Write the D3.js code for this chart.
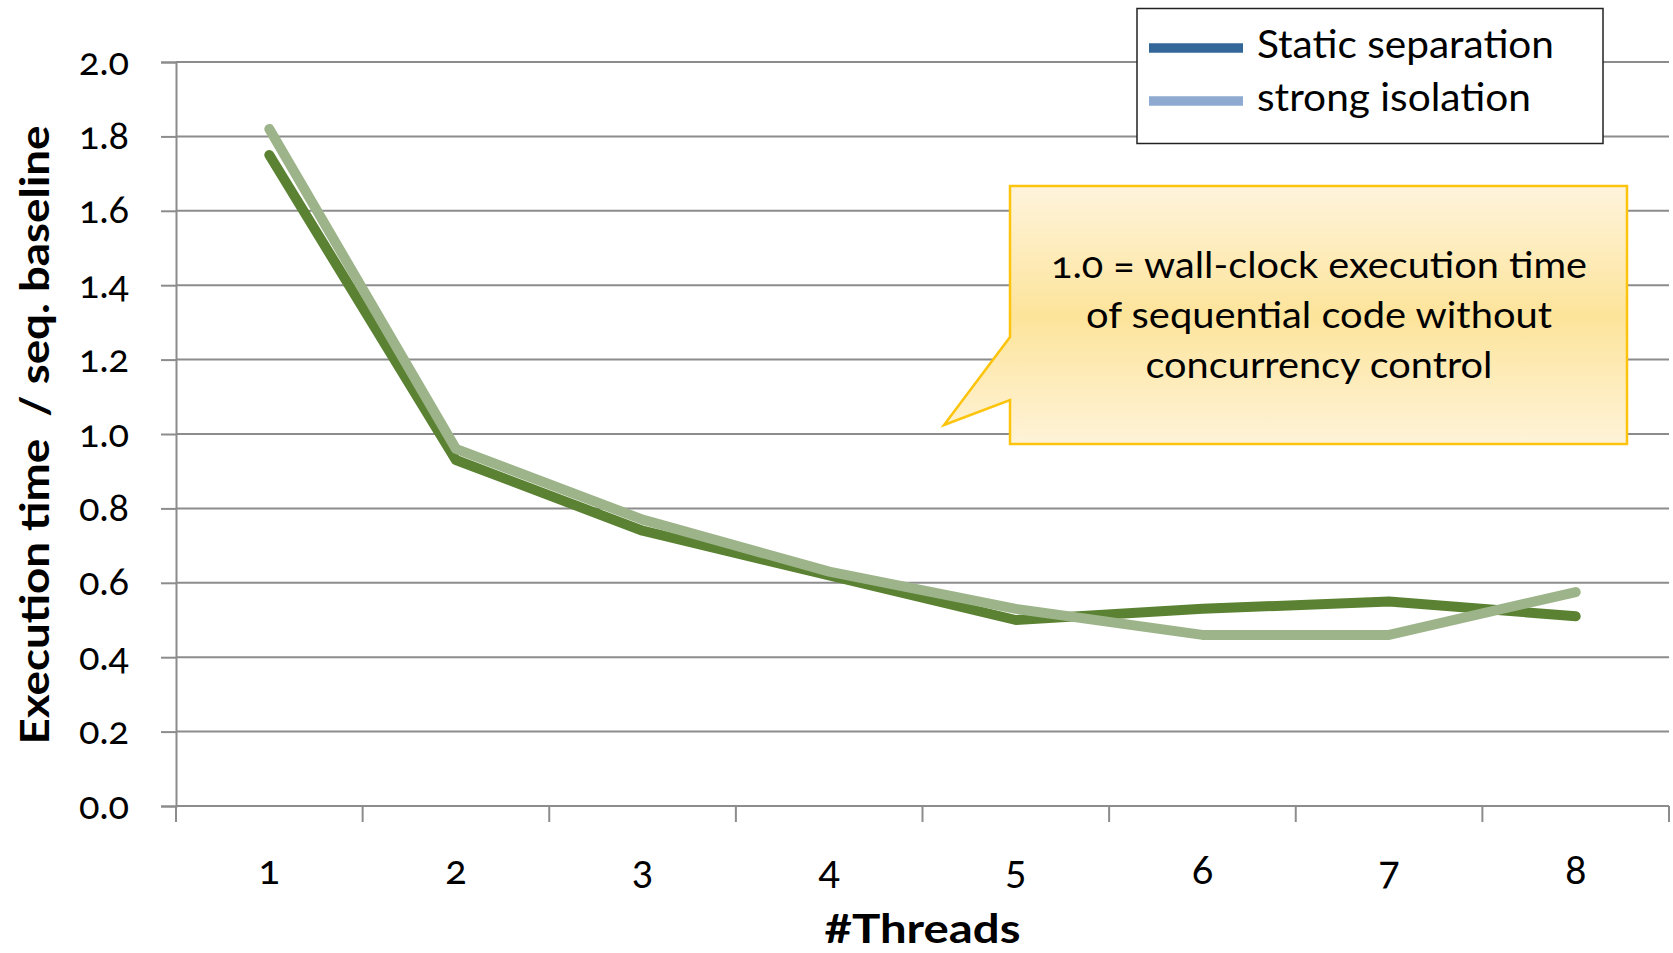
<!DOCTYPE html>
<html>
<head>
<meta charset="utf-8">
<script src="https://cdn.jsdelivr.net/npm/d3@7"></script>
<style>
  html, body { margin: 0; padding: 0; background: #ffffff; }
  svg { display: block; font-family: Lato, "Open Sans", "DejaVu Sans", sans-serif; }
  .num { font-feature-settings: "onum" 1; font-variant-numeric: oldstyle-nums; }
</style>
</head>
<body>
<svg id="chart" width="1673" height="953"></svg>
<script>
// Execution time relative to the sequential baseline, per thread count
const threads = ["1", "2", "3", "4", "5", "6", "7", "8"];
const staticSeparation = [1.75, 0.93, 0.74, 0.62, 0.50, 0.53, 0.55, 0.51];
const strongIsolation  = [1.82, 0.96, 0.77, 0.63, 0.53, 0.46, 0.46, 0.575];
const yTicks = [0.0, 0.2, 0.4, 0.6, 0.8, 1.0, 1.2, 1.4, 1.6, 1.8, 2.0];

const seriesNames = ["Static separation", "strong isolation"];
const lineColors = ["#5a8232", "#9db48a"];
const legendColors = ["#336699", "#8eaad0"];
const noteLines = [
  "1.0 = wall-clock execution time",
  "of sequential code without",
  "concurrency control"
];

const svg = d3.select("#chart");
const plotLeft = 176, plotRight = 1669, plotTop = 62, plotBottom = 806;

const x = d3.scaleBand().domain(threads).range([plotLeft, plotRight]);
const y = d3.scaleLinear().domain([0, 2]).range([plotBottom, plotTop]);

const gridColor = "#8c8c8c";

// horizontal gridlines
svg.append("g")
  .selectAll("line")
  .data(yTicks.filter(d => d > 0))
  .join("line")
  .attr("x1", plotLeft).attr("x2", plotRight)
  .attr("y1", d => y(d)).attr("y2", d => y(d))
  .attr("stroke", gridColor).attr("stroke-width", 2);

// y axis
const yAxis = svg.append("g")
  .attr("transform", `translate(${plotLeft},0)`)
  .call(d3.axisLeft(y).tickValues(yTicks).tickFormat(d3.format(".1f")).tickSize(15).tickPadding(32));
yAxis.select(".domain").attr("stroke", gridColor).attr("stroke-width", 2);
yAxis.selectAll(".tick line").attr("stroke", gridColor).attr("stroke-width", 2);
yAxis.selectAll(".tick text")
  .attr("class", "num")
  .attr("font-size", 38)
  .attr("fill", "#000")
  .attr("font-family", "Lato, sans-serif");

// x axis: line, boundary ticks, labels at band centres
const xAxis = svg.append("g")
  .attr("transform", `translate(0,${plotBottom})`)
  .call(d3.axisBottom(x).tickSize(0).tickPadding(0));
xAxis.select(".domain").attr("stroke", gridColor).attr("stroke-width", 2).attr("d", `M${plotLeft},0H${plotRight}`);
xAxis.selectAll(".tick text")
  .attr("class", "num")
  .attr("font-size", 40)
  .attr("fill", "#000")
  .attr("font-family", "Lato, sans-serif")
  .attr("dy", 0)
  .attr("y", 78);

const boundaries = threads.map(d => x(d)).concat([x.range()[1]]);
xAxis.append("g")
  .selectAll("line")
  .data(boundaries)
  .join("line")
  .attr("x1", d => d).attr("x2", d => d)
  .attr("y1", 0).attr("y2", 16)
  .attr("stroke", gridColor).attr("stroke-width", 2);

// axis titles
svg.append("text")
  .attr("x", (plotLeft + plotRight) / 2)
  .attr("y", 943)
  .attr("text-anchor", "middle")
  .attr("font-size", 40)
  .attr("font-weight", "bold")
  .attr("textLength", 196)
  .attr("lengthAdjust", "spacingAndGlyphs")
  .text("#Threads");

svg.append("text")
  .attr("transform", "translate(49,435) rotate(-90)")
  .attr("text-anchor", "middle")
  .attr("font-size", 40)
  .attr("font-weight", "bold")
  .attr("textLength", 619)
  .attr("lengthAdjust", "spacingAndGlyphs")
  .style("white-space", "pre")
  .text("Execution time  / seq. baseline");

// data lines
const line = d3.line()
  .x((d, i) => x(threads[i]) + x.bandwidth() / 2)
  .y(d => y(d));

[staticSeparation, strongIsolation].forEach((vals, i) => {
  svg.append("path")
    .datum(vals)
    .attr("d", line)
    .attr("fill", "none")
    .attr("stroke", lineColors[i])
    .attr("stroke-width", 10)
    .attr("stroke-linecap", "round")
    .attr("stroke-linejoin", "round");
});

// legend
const legend = svg.append("g");
legend.append("rect")
  .attr("x", 1137).attr("y", 8.5)
  .attr("width", 466).attr("height", 135)
  .attr("fill", "#fff").attr("stroke", "#222").attr("stroke-width", 1.5);
seriesNames.forEach((name, i) => {
  const cy = 48 + i * 53;
  legend.append("line")
    .attr("x1", 1149).attr("x2", 1243)
    .attr("y1", cy).attr("y2", cy)
    .attr("stroke", legendColors[i]).attr("stroke-width", 9.5);
  legend.append("text")
    .attr("x", 1257).attr("y", cy + 10)
    .attr("font-size", 38)
    .attr("textLength", i === 0 ? 297 : 274)
    .attr("lengthAdjust", "spacingAndGlyphs")
    .text(name);
});

// callout note
const defs = svg.append("defs");
const grad = defs.append("linearGradient")
  .attr("id", "noteFill")
  .attr("gradientUnits", "userSpaceOnUse")
  .attr("x1", 0).attr("y1", 186).attr("x2", 0).attr("y2", 444);
grad.append("stop").attr("offset", "0%").attr("stop-color", "#fef4dc");
grad.append("stop").attr("offset", "50%").attr("stop-color", "#fde49b");
grad.append("stop").attr("offset", "100%").attr("stop-color", "#fef3d8");

svg.append("path")
  .attr("d", "M1010,186H1627V444H1010V400L944,425L1010,337Z")
  .attr("fill", "url(#noteFill)")
  .attr("stroke", "#fcc40c")
  .attr("stroke-width", 2.5)
  .attr("stroke-linejoin", "miter");

const noteWidths = [536, 466, 347];
noteLines.forEach((t, i) => {
  svg.append("text")
    .attr("class", "num")
    .attr("x", 1319).attr("y", 278 + i * 50)
    .attr("text-anchor", "middle")
    .attr("font-size", 36)
    .attr("textLength", noteWidths[i])
    .attr("lengthAdjust", "spacingAndGlyphs")
    .text(t);
});
</script>
</body>
</html>
